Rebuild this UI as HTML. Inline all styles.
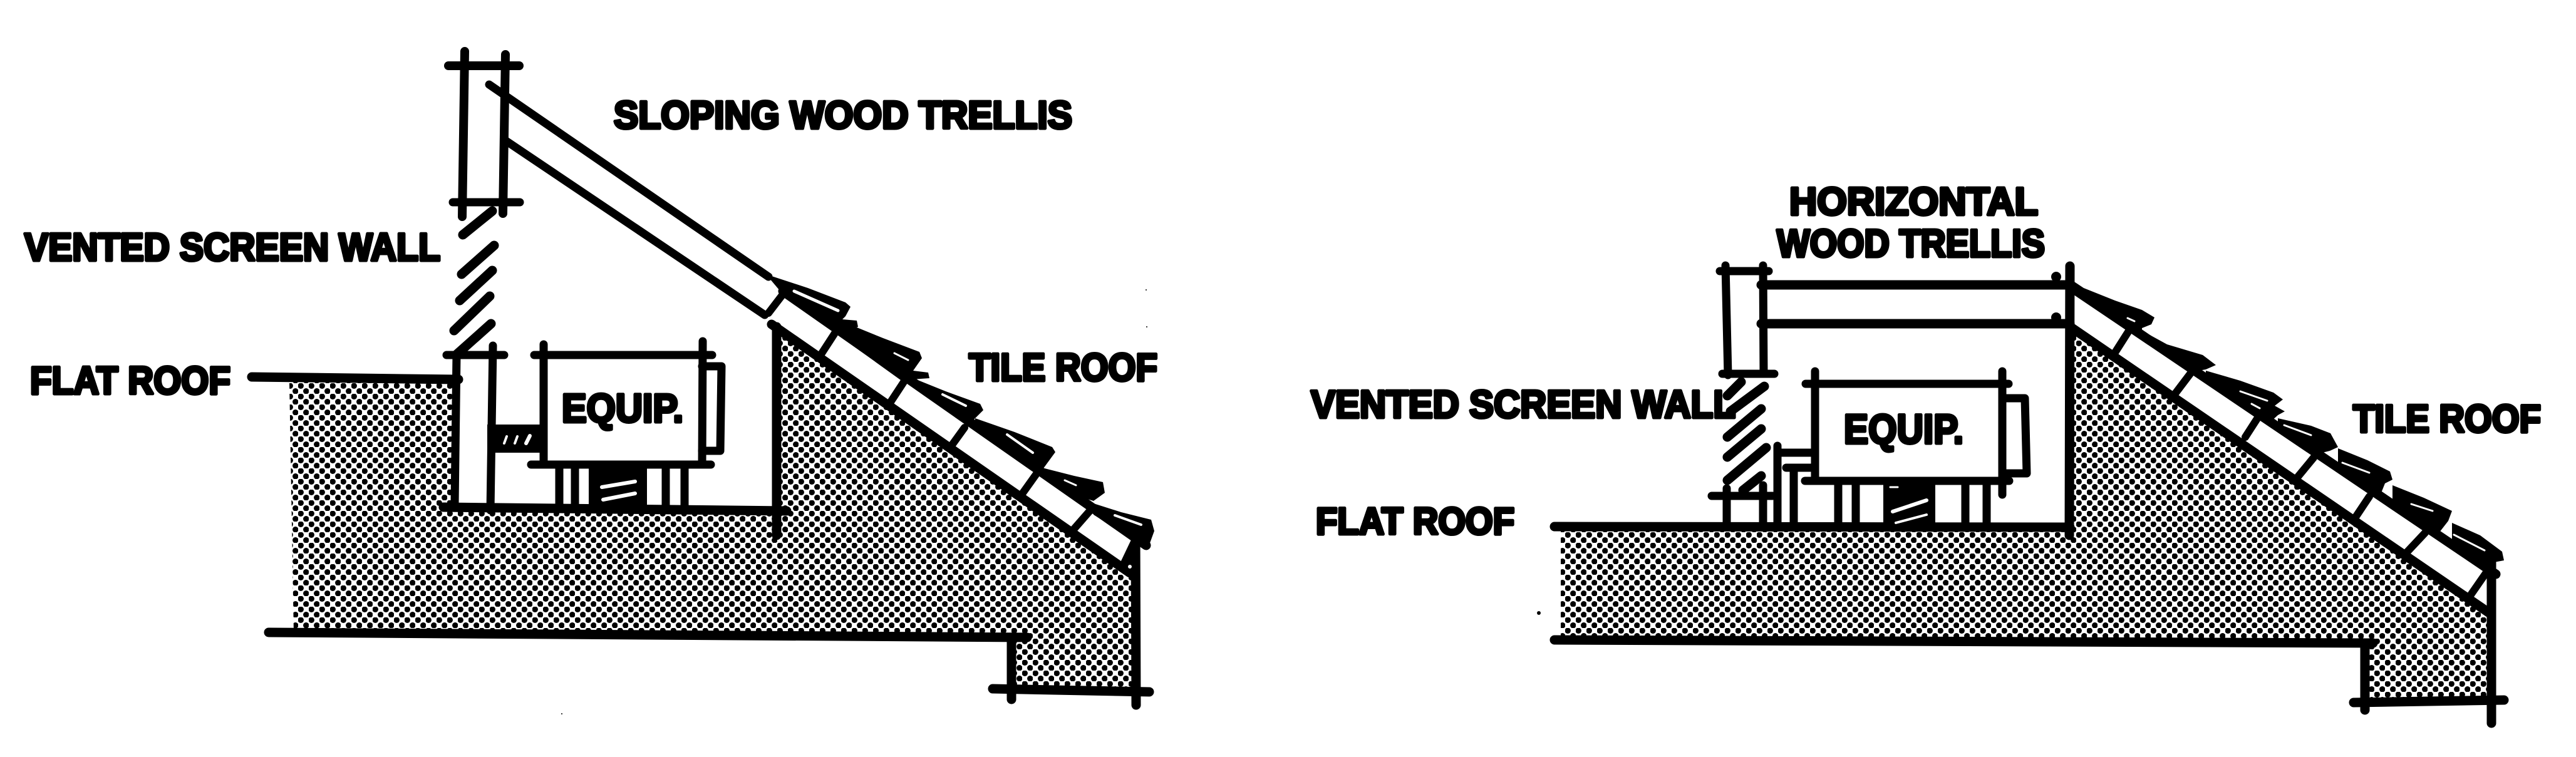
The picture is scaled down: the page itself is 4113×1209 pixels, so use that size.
<!DOCTYPE html>
<html><head><meta charset="utf-8"><style>
html,body{margin:0;padding:0;background:#fff;width:4113px;height:1209px;overflow:hidden}
svg{display:block}
text{font-family:"Liberation Sans",sans-serif;font-weight:bold;fill:#000;stroke:#000;stroke-width:5px;stroke-linejoin:round}
.l path{fill:none;stroke:#000;stroke-linecap:round;stroke-linejoin:round}
.w path{fill:none;stroke:#fff;stroke-linecap:round}
</style></head><body>
<svg xmlns="http://www.w3.org/2000/svg" width="4113" height="1209" viewBox="0 0 4113 1209">
<defs><pattern id="h" width="17" height="17" patternUnits="userSpaceOnUse"><rect width="17" height="17" fill="#fff"/><circle cx="4.25" cy="4.25" r="4.7" fill="#000"/><circle cx="12.75" cy="12.75" r="4.7" fill="#000"/></pattern></defs>
<rect width="4113" height="1209" fill="#fff"/>

<!-- LEFT hatch -->
<path fill="url(#h)" d="M462,610 L725,610 L725,812 L1240,812 L1240,520 L1804,912 L1812,914 L1812,1100 L1617,1100 L1617,1016 L469,1012 Z"/>

<!-- LEFT lines -->
<g class="l">
 <g stroke-width="13">
  <path d="M716,105 H829" stroke-width="14"/><path d="M742,82 L738,346" stroke-width="14"/><path d="M807,87 L803,341" stroke-width="14"/><path d="M723,323 H830"/>
  <path d="M781,135 L1227,442"/><path d="M805,223 L1221,503"/>
  <path d="M713,567 H805"/><path d="M729,567 L726,805"/><path d="M787,552 L783,815"/>
  <path d="M853,567 H1137"/><path d="M868,550 L868,742"/><path d="M1122,545 L1121,742"/><path d="M848,742 H1135"/>
  <path d="M893,742 V808"/><path d="M918,742 V808"/><path d="M1063,742 V808"/><path d="M1093,742 V808"/>
  <path d="M1121,585 H1152 L1150,720 H1121"/>
 </g>
 <g stroke-width="15">
  <path d="M739,375 L786,337"/><path d="M737,438 L789,392"/><path d="M734,480 L786,432"/><path d="M725,528 L782,473"/><path d="M728,567 L784,517"/>
  <path d="M402,602 L732,606"/>
  <path d="M708,810 L1256,816"/><path d="M1240,522 V855"/>
  <path d="M429,1010 L1640,1018"/><path d="M1615,1022 V1117"/>
  <path d="M1232,518 L1804,915"/>
  <path d="M1250,465 L1830,871"/>
  <path d="M1585,1100 L1835,1105"/><path d="M1813,851 L1814,1126"/>
 </g>
 <g stroke-width="12">
  <path d="M1250,470 L1227,500"/><path d="M1333,532 L1307,572"/><path d="M1445,607 L1422,642"/><path d="M1540,683 L1519,712"/><path d="M1654,758 L1629,793"/><path d="M1740,816 L1712,848"/>
 </g>
</g>
<polygon points="1808,858 1820,858 1820,915 1788,900" fill="#000"/><circle cx="1804" cy="905" r="3" fill="#fff"/>
<!-- left link + spring -->
<rect x="778" y="678" width="95" height="45" fill="#000"/>
<rect x="940" y="746" width="93" height="64" fill="#000"/>
<g class="w">
 <path stroke-width="4" d="M805,708 L809,697"/><path stroke-width="4" d="M822,708 L826,697"/><path stroke-width="6" d="M840,708 L846,696"/>
 <path stroke-width="6" d="M961,778 L1014,769"/><path stroke-width="6" d="M963,798 L1014,788"/>
</g>
<!-- left shingles -->
<g fill="#000">
 <polygon points="1223,438 1290,460 1350,483 1358,490 1350,505 1345,510 1368,512 1370,522 1345,531 1250,470"/>
 <polygon points="1356,518 1410,540 1468,562 1472,572 1458,592 1482,595 1484,604 1455,606 1445,612 1345,540"/>
 <polygon points="1453,602 1510,625 1565,645 1570,655 1551,674 1540,675 1453,612"/>
 <polygon points="1557,668 1620,690 1680,714 1685,722 1666,748 1650,745 1557,680"/>
 <polygon points="1660,746 1715,760 1761,770 1764,787 1746,800 1730,795 1660,760"/>
 <polygon points="1746,804 1790,818 1838,830 1843,848 1835,870 1810,862 1746,822"/>
</g>
<g class="w">
 <path stroke-width="5" d="M1268,465 L1338,496"/><path stroke-width="3" d="M1428,564 L1450,575"/><path stroke-width="4" d="M1505,630 L1542,648"/><path stroke-width="4" d="M1608,694 L1649,723"/><path stroke-width="3" d="M1700,767 L1718,775"/><path stroke-width="4" d="M1780,823 L1822,838"/>
</g>

<!-- RIGHT hatch -->
<path fill="url(#h)" d="M2492,846 L3300,846 L3300,522 L3307,522 L3976,980 L3976,1120 L3776,1120 L3776,1024 L2492,1020 Z"/>

<!-- RIGHT lines -->
<g class="l">
 <g stroke-width="13">
  <path d="M2746,433 H2824"/><path d="M2755,424 L2759,599"/><path d="M2815,424 L2816,596"/><path d="M2750,597 H2833"/>
  <path d="M2733,792 H2830"/><path d="M2757,780 V837"/><path d="M2815,775 V837"/>
  <path d="M2838,712 V837"/><path d="M2838,723 H2893"/><path d="M2864,747 V837"/><path d="M2852,747 H2893"/>
  <path d="M2883,613 H3207"/><path d="M2898,593 V768"/><path d="M3197,593 V790"/><path d="M2882,768 H3208"/>
  <path d="M2935,768 V837"/><path d="M2963,768 V837"/><path d="M3138,768 V837"/><path d="M3172,768 V837"/>
  <path d="M3197,636 H3233 L3236,756 H3197"/>
 </g>
 <g stroke-width="15">
  <path d="M2758,632 L2780,610"/><path d="M2763,657 L2817,617"/><path d="M2758,698 L2812,653"/><path d="M2758,730 L2812,685"/><path d="M2758,767 L2820,715"/><path d="M2783,783 L2812,760"/>
  <path d="M2812,455 H3305"/><path d="M2812,517 H3305"/>
  <path d="M2482,841 L3305,842"/><path d="M2482,1022 L3789,1027"/>
  <path d="M3305,425 L3304,855"/>
  <path d="M3307,523 L3976,980"/>
  <path d="M3313,463 L3985,917"/>
  <path d="M3776,1029 V1134"/><path d="M3758,1122 L3998,1118"/><path d="M3978,880 V1155"/>
 </g>
 <g stroke-width="12">
  <path d="M3398,530 L3377,563"/><path d="M3497,597 L3472,630"/><path d="M3605,667 L3585,698"/><path d="M3694,731 L3666,765"/><path d="M3783,793 L3761,826"/><path d="M3872,851 L3841,884"/><path d="M3970,914 L3945,950"/>
 </g>
</g>
<rect x="3007" y="766" width="83" height="72" fill="#000"/>
<g class="w">
 <path stroke-width="6" d="M3022,817 L3076,799"/><path stroke-width="4" d="M3027,835 L3076,822"/><path stroke-width="3" d="M3018,778 L3030,778"/>
</g>
<g fill="#000">
 <polygon points="3300,442 3327,460 3377,480 3420,495 3440,507 3435,518 3420,524 3420,535 3313,463"/>
 <polygon points="3420,528 3460,550 3517,567 3538,583 3522,590 3505,593 3420,535"/>
 <polygon points="3522,592 3577,608 3630,627 3645,638 3632,648 3648,657 3637,663 3625,674 3522,604"/>
 <polygon points="3637,668 3690,680 3721,692 3733,714 3720,720 3700,725 3637,682"/>
 <polygon points="3733,716 3780,735 3816,753 3820,766 3808,772 3800,792 3733,746"/>
 <polygon points="3820,775 3870,795 3915,816 3909,832 3895,850 3820,806"/>
 <polygon points="3915,835 3960,855 3995,881 3998,895 3982,898 3965,905 3915,870"/>
 <circle cx="3283" cy="442" r="8"/><circle cx="3283" cy="507" r="8"/>
</g>
<g class="w">
 <path stroke-width="3" d="M3397,508 L3408,513"/><path stroke-width="3" d="M3577,625 L3620,640"/><path stroke-width="3" d="M3595,645 L3608,652"/><path stroke-width="3" d="M3647,679 L3690,695"/><path stroke-width="3" d="M3740,739 L3783,755"/><path stroke-width="3" d="M3850,805 L3884,816"/><path stroke-width="3" d="M3918,854 L3967,879"/>
</g>

<!-- specks -->
<circle cx="2457" cy="979" r="3" fill="#000"/><circle cx="897" cy="1140" r="1" fill="#000"/><circle cx="1830" cy="463" r="1" fill="#000"/><circle cx="1831" cy="522" r="1" fill="#000"/>

<!-- labels -->
<text x="980" y="205" font-size="62" textLength="732" lengthAdjust="spacingAndGlyphs">SLOPING WOOD TRELLIS</text>
<text x="39" y="416" font-size="62" textLength="664" lengthAdjust="spacingAndGlyphs">VENTED SCREEN WALL</text>
<text x="48" y="629" font-size="62" textLength="320" lengthAdjust="spacingAndGlyphs">FLAT ROOF</text>
<text x="897" y="674" font-size="64" textLength="194" lengthAdjust="spacingAndGlyphs">EQUIP.</text>
<text x="1547" y="608" font-size="62" textLength="301" lengthAdjust="spacingAndGlyphs">TILE ROOF</text>
<text x="2857" y="343" font-size="62" textLength="397" lengthAdjust="spacingAndGlyphs">HORIZONTAL</text>
<text x="2837" y="410" font-size="62" textLength="428" lengthAdjust="spacingAndGlyphs">WOOD TRELLIS</text>
<text x="2093" y="667" font-size="62" textLength="678" lengthAdjust="spacingAndGlyphs">VENTED SCREEN WALL</text>
<text x="2101" y="853" font-size="60" textLength="317" lengthAdjust="spacingAndGlyphs">FLAT ROOF</text>
<text x="2944" y="708" font-size="66" textLength="191" lengthAdjust="spacingAndGlyphs">EQUIP.</text>
<text x="3757" y="690" font-size="62" textLength="300" lengthAdjust="spacingAndGlyphs">TILE ROOF</text>
</svg>
</body></html>
